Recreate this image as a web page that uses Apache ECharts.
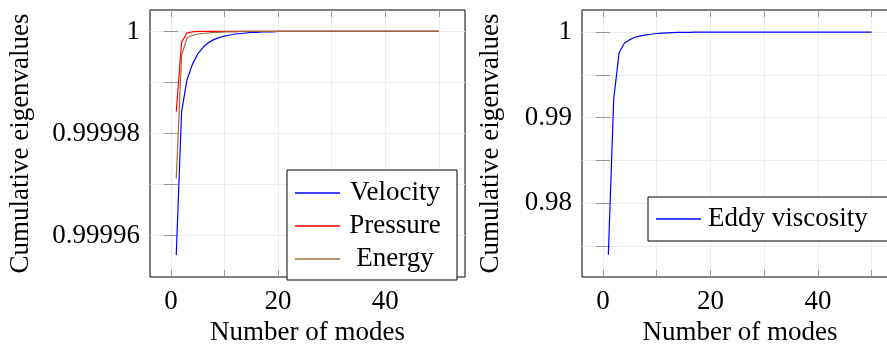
<!DOCTYPE html>
<html>
<head>
<meta charset="utf-8">
<script src="https://cdn.jsdelivr.net/npm/echarts@6/dist/echarts.min.js"></script>
<style>
  html, body { margin: 0; padding: 0; background: #fff; }
  #chart { width: 887px; height: 348px; }
</style>
</head>
<body>
<div id="chart"></div>
<script>
// number of modes (x)
const modes = [1, 2, 3, 4, 5, 6, 7, 8, 9, 10, 11, 12, 13, 14, 15, 16, 17, 18, 19, 20,
  21, 22, 23, 24, 25, 26, 27, 28, 29, 30, 31, 32, 33, 34, 35, 36, 37, 38, 39, 40,
  41, 42, 43, 44, 45, 46, 47, 48, 49, 50]

// cumulative eigenvalues
const velocity = [0.9999562, 0.9999843, 0.9999905, 0.9999935, 0.9999956, 0.9999969, 0.9999978, 0.9999984, 0.9999988, 0.9999991,
  0.9999993, 0.9999995, 0.9999996, 0.9999997, 0.9999998, 0.9999998, 0.9999999, 0.9999999, 0.9999999, 1,
  1, 1, 1, 1, 1, 1, 1, 1, 1, 1, 1, 1, 1, 1, 1, 1, 1, 1, 1, 1,
  1, 1, 1, 1, 1, 1, 1, 1, 1, 1]
const pressure = [0.9999843, 0.9999979, 0.9999997, 0.9999999, 1, 1, 1, 1, 1, 1,
  1, 1, 1, 1, 1, 1, 1, 1, 1, 1, 1, 1, 1, 1, 1, 1, 1, 1, 1, 1,
  1, 1, 1, 1, 1, 1, 1, 1, 1, 1, 1, 1, 1, 1, 1, 1, 1, 1, 1, 1]
const energy = [0.9999712, 0.9999953, 0.9999987, 0.9999992, 0.9999995, 0.9999996, 0.9999997, 0.9999998, 0.9999998, 0.9999999,
  0.9999999, 0.9999999, 1, 1, 1, 1, 1, 1, 1, 1, 1, 1, 1, 1, 1, 1, 1, 1, 1, 1,
  1, 1, 1, 1, 1, 1, 1, 1, 1, 1, 1, 1, 1, 1, 1, 1, 1, 1, 1, 1]
const eddyViscosity = [0.97395, 0.99217, 0.9976, 0.99874, 0.99913, 0.99941, 0.99957, 0.99969, 0.99976, 0.99985,
  0.99989, 0.99992, 0.99995, 0.99997, 0.99998, 0.99999, 1, 1, 1, 1,
  1, 1, 1, 1, 1, 1, 1, 1, 1, 1, 1, 1, 1, 1, 1, 1, 1, 1, 1, 1,
  1, 1, 1, 1, 1, 1, 1, 1, 1, 1]

// ticks
const xTicks = [0, 10, 20, 30, 40, 50]
const xLabels = [0, 20, 40]
const yTicksLeft = [0.99996, 0.99997, 0.99998, 0.99999, 1]
const yLabelsLeft = [0.99996, 0.99998, 1]
const yTicksRight = [0.975, 0.98, 0.985, 0.99, 0.995, 1]
const yLabelsRight = [0.98, 0.99, 1]

const FONT = "'Liberation Serif', 'DejaVu Serif', serif"
const FS = 27

const pairs = (ys) => ys.map((v, i) => [modes[i], v])

// one side of a framed pgfplots-like box
const makeX = (grid, pos) => ({
  type: 'value', gridIndex: grid, position: pos,
  min: -3.9, max: 54.9,
  axisLine: { show: false },
  axisTick: { show: true, inside: true, length: 7, customValues: xTicks, lineStyle: { color: '#999' } },
  axisLabel: pos === 'bottom'
    ? { show: true, customValues: xLabels, margin: 11, fontFamily: FONT, fontSize: FS, color: '#000' }
    : { show: false },
  splitLine: { show: pos === 'bottom', lineStyle: { color: '#ececec', width: 1 } },
  name: pos === 'bottom' ? 'Number of modes' : '',
  nameLocation: 'middle', nameGap: 42,
  nameTextStyle: { fontFamily: FONT, fontSize: FS, color: '#000' }
})

const makeY = (grid, pos, min, max, ticks, labels) => ({
  type: 'value', gridIndex: grid, position: pos,
  min: min, max: max,
  axisLine: { show: false },
  axisTick: { show: true, inside: true, length: 7, customValues: ticks, lineStyle: { color: '#999' } },
  axisLabel: pos === 'left'
    ? { show: true, customValues: labels, margin: 10, fontFamily: FONT, fontSize: FS, color: '#000',
        formatter: (v) => String(parseFloat(v.toFixed(6))) }
    : { show: false },
  splitLine: { show: pos === 'left', lineStyle: { color: '#ececec', width: 1 } },
  name: pos === 'left' ? 'Cumulative eigenvalues' : '',
  nameLocation: 'middle', nameGap: grid === 0 ? 116 : 78,
  nameTextStyle: { fontFamily: FONT, fontSize: FS, color: '#000' }
})

const chart = echarts.init(document.getElementById('chart'), null, { renderer: 'canvas' })

const lineSeries = (name, data, color, xi, yi) => ({
  name: name, type: 'line', data: pairs(data),
  xAxisIndex: xi, yAxisIndex: yi,
  showSymbol: false, symbol: 'none',
  lineStyle: { color: color, width: 1.2 },
  itemStyle: { color: color },
  animation: false
})

chart.setOption({
  animation: false,
  grid: [
    { left: 150, top: 10, width: 315, height: 267, outerBoundsMode: 'none', show: true, borderColor: '#000', borderWidth: 1, backgroundColor: 'transparent' },
    { left: 582, top: 10, width: 316, height: 267, outerBoundsMode: 'none', show: true, borderColor: '#000', borderWidth: 1, backgroundColor: 'transparent' }
  ],
  xAxis: [makeX(0, 'bottom'), makeX(0, 'top'), makeX(1, 'bottom'), makeX(1, 'top')],
  yAxis: [
    makeY(0, 'left', 0.9999519, 1.0000042, yTicksLeft, yLabelsLeft),
    makeY(0, 'right', 0.9999519, 1.0000042, yTicksLeft, yLabelsLeft),
    makeY(1, 'left', 0.97135, 1.0026, yTicksRight, yLabelsRight),
    makeY(1, 'right', 0.97135, 1.0026, yTicksRight, yLabelsRight)
  ],
  legend: [
    {
      data: ['Velocity', 'Pressure', 'Energy'],
      orient: 'vertical', left: 287, top: 170,
      padding: [9, 12, 7, 8], itemGap: 5, itemWidth: 45, itemHeight: 1.5, icon: 'rect',
      backgroundColor: '#fff', borderColor: '#000', borderWidth: 1,
      formatter: '{c|{name}}',
      textStyle: { fontFamily: FONT, fontSize: FS, color: '#000', lineHeight: 28,
        rich: { c: { width: 100, align: 'center', fontFamily: FONT, fontSize: FS, lineHeight: 28 } } }
    },
    {
      data: ['Eddy viscosity'],
      orient: 'vertical', left: 648, top: 197,
      padding: [8, 60, 8, 8], itemWidth: 45, itemHeight: 1.5, icon: 'rect',
      backgroundColor: '#fff', borderColor: '#000', borderWidth: 1,
      textStyle: { fontFamily: FONT, fontSize: FS, color: '#000', lineHeight: 28, padding: [0, 0, 0, 2] }
    }
  ],
  series: [
    lineSeries('Velocity', velocity, '#0000ff', 0, 0),
    lineSeries('Pressure', pressure, '#ff0000', 0, 0),
    lineSeries('Energy', energy, '#9c6a3a', 0, 0),
    lineSeries('Eddy viscosity', eddyViscosity, '#0000ff', 2, 2)
  ]
})

window.addEventListener('resize', () => chart.resize())
</script>
</body>
</html>
